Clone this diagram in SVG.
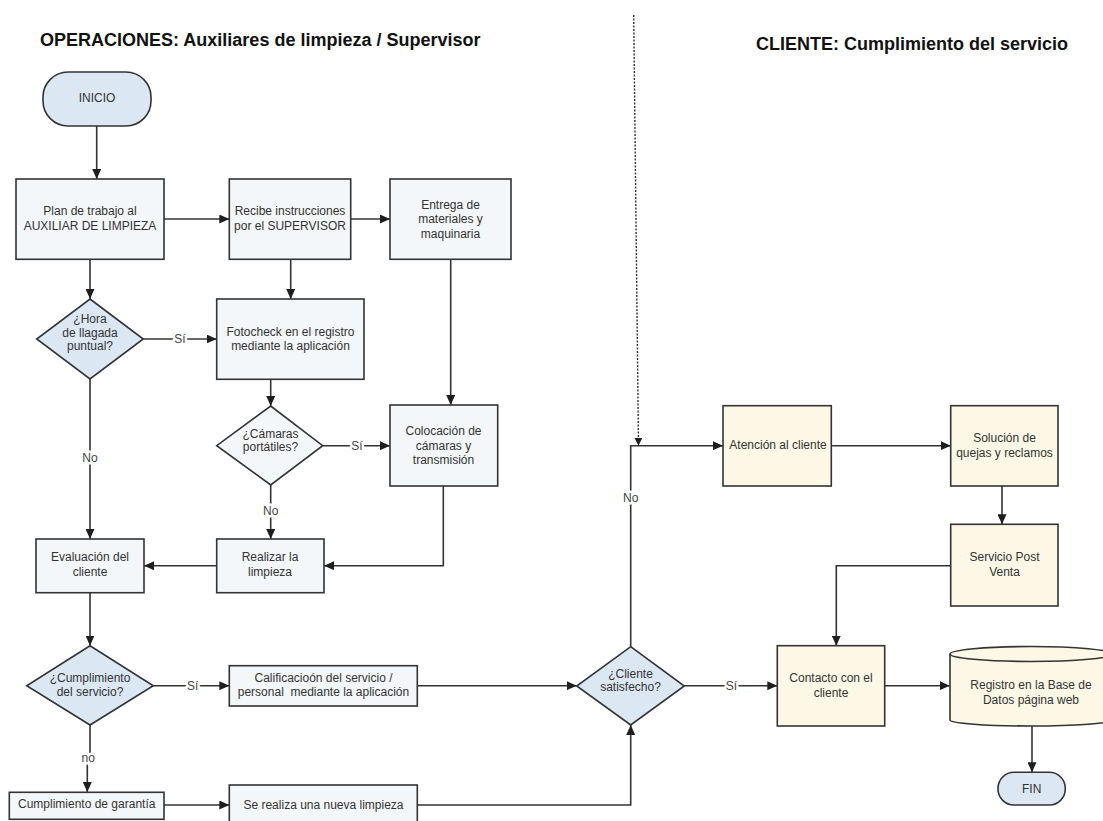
<svg xmlns="http://www.w3.org/2000/svg" width="1103" height="821" viewBox="0 0 1103 821">
<defs>
<marker id="ah" markerUnits="userSpaceOnUse" markerWidth="11" markerHeight="9" refX="10" refY="4.5" orient="auto">
<path d="M0,0 L10,4.5 L0,9 z" fill="#1e1e1e"/>
</marker>
<marker id="ahs" markerUnits="userSpaceOnUse" markerWidth="9" markerHeight="8" refX="8" refY="4" orient="auto">
<path d="M0,0 L8,4 L0,8 z" fill="#1e1e1e"/>
</marker>
<style>
.title{font-family:"Liberation Sans",Arial,sans-serif;font-weight:bold;font-size:18px;fill:#111}
.t{font-family:"Liberation Sans",Arial,sans-serif;font-size:12px;fill:#333;text-anchor:middle}
.lbl{font-family:"Liberation Sans",Arial,sans-serif;font-size:12px;fill:#444;text-anchor:middle;stroke:#fff;stroke-width:5px;paint-order:stroke;stroke-linejoin:round}
.box{fill:#f4f7f9;stroke:#333;stroke-width:1.6}
.blue{fill:#dbe8f4;stroke:#333;stroke-width:1.6}
.cream{fill:#fdf8e6;stroke:#333;stroke-width:1.6}
.c{fill:none;stroke:#333;stroke-width:1.6;marker-end:url(#ah)}
.cn{fill:none;stroke:#333;stroke-width:1.6}
.dot{fill:none;stroke:#333;stroke-width:1.4;stroke-dasharray:2 1.5;marker-end:url(#ahs)}
</style>
</defs>
<rect width="1103" height="821" fill="#fff"/>
<text class="title" x="40" y="46">OPERACIONES: Auxiliares de limpieza / Supervisor</text>
<text class="title" x="756" y="50">CLIENTE: Cumplimiento del servicio</text>

<g id="connectors">
<path class="c" d="M96.7 126 V179"/>
<path class="c" d="M164 219 H229.3"/>
<path class="c" d="M350.7 219 H390"/>
<path class="c" d="M90 259.3 V299"/>
<path class="c" d="M290.7 259.3 V299"/>
<path class="c" d="M450.7 259.3 V405"/>
<path class="c" d="M143.3 339 H216.7"/>
<path class="c" d="M270.7 379.3 V406"/>
<path class="c" d="M322.7 445.7 H390"/>
<path class="c" d="M90 379 V539"/>
<path class="c" d="M270.7 485 V539"/>
<path class="c" d="M443.3 486 V565.7 H324"/>
<path class="c" d="M216.7 565.7 H144"/>
<path class="c" d="M90 592.7 V645.7"/>
<path class="c" d="M153.3 685.7 H229.3"/>
<path class="c" d="M90 725 V757 H87.3 V792"/>
<path class="c" d="M164 805 H229.3"/>
<path class="c" d="M417.3 685.7 H576.7"/>
<path class="c" d="M417.3 805 H630.7 V725"/>
<path class="c" d="M630.7 646.7 V445.7 H723"/>
<path class="dot" d="M633.7 15 L638.5 445.7"/>
<path class="c" d="M831.3 445.7 H950.7"/>
<path class="c" d="M1002 486 V524.3"/>
<path class="c" d="M950.7 565.7 H836.3 V645.7"/>
<path class="c" d="M684.3 685.7 H777.3"/>
<path class="c" d="M884.7 685.7 H949.7"/>
<path class="c" d="M1032 726 V772.3"/>
<text class="lbl" x="180" y="343">Sí</text>
<text class="lbl" x="357" y="449.5">Sí</text>
<text class="lbl" x="90" y="461.5">No</text>
<text class="lbl" x="270.7" y="515">No</text>
<text class="lbl" x="192.7" y="690">Sí</text>
<text class="lbl" x="88.3" y="762">no</text>
<text class="lbl" x="630.7" y="502">No</text>
<text class="lbl" x="731.3" y="690">Sí</text>
</g>

<g id="inicio"><rect class="blue" x="43" y="72" width="108" height="54" rx="25"/><text class="t" x="97" y="102">INICIO</text></g>
<g id="plan"><rect class="box" x="16" y="179" width="148" height="80.3"/><text class="t" x="90" y="215">Plan de trabajo al</text><text class="t" x="90" y="230">AUXILIAR DE LIMPIEZA</text></g>
<g id="recibe"><rect class="box" x="229.3" y="179" width="121.4" height="80.3"/><text class="t" x="290" y="215">Recibe instrucciones</text><text class="t" x="290" y="230">por el SUPERVISOR</text></g>
<g id="entrega"><rect class="box" x="390" y="179" width="121" height="80.3"/><text class="t" x="450.5" y="208.5">Entrega de</text><text class="t" x="450.5" y="223">materiales y</text><text class="t" x="450.5" y="237.5">maquinaria</text></g>
<g id="hora"><polygon class="blue" points="90,299 143.3,339 90,379 36.7,339"/><text class="t" x="90" y="322.5">¿Hora</text><text class="t" x="90" y="336.5">de llagada</text><text class="t" x="90" y="350">puntual?</text></g>
<g id="fotocheck"><rect class="box" x="216.7" y="299" width="147.3" height="80.3"/><text class="t" x="290.5" y="335.5">Fotocheck en el registro</text><text class="t" x="290.5" y="350">mediante la aplicación</text></g>
<g id="camaras"><polygon class="box" points="270.7,406 322.7,445.7 270.7,485 216.7,445.7"/><text class="t" x="270.5" y="437.5">¿Cámaras</text><text class="t" x="270.5" y="451">portátiles?</text></g>
<g id="colocacion"><rect class="box" x="390" y="405" width="107.7" height="81"/><text class="t" x="443.5" y="435">Colocación de</text><text class="t" x="443.5" y="449.5">cámaras y</text><text class="t" x="443.5" y="464">transmisión</text></g>
<g id="evaluacion"><rect class="box" x="36" y="539" width="108" height="53.7"/><text class="t" x="90" y="561">Evaluación del</text><text class="t" x="90" y="576">cliente</text></g>
<g id="realizar"><rect class="box" x="216.7" y="539" width="107.3" height="53.7"/><text class="t" x="270" y="561">Realizar la</text><text class="t" x="270" y="576">limpieza</text></g>
<g id="cumplimiento"><polygon class="blue" points="90,645.7 153.3,685.7 90,725 26.7,685.7"/><text class="t" x="90" y="681.5">¿Cumplimiento</text><text class="t" x="90" y="696">del servicio?</text></g>
<g id="calificacion"><rect class="box" x="229.3" y="665.7" width="188" height="40.3"/><text class="t" x="323.5" y="681.5">Calificacioón del servicio /</text><text class="t" x="323.5" y="695.5" xml:space="preserve">personal  mediante la aplicación</text></g>
<g id="garantia"><rect class="box" x="9.3" y="792.3" width="154.7" height="27"/><text class="t" x="86.7" y="808">Cumplimiento de garantía</text></g>
<g id="nueva"><rect class="box" x="229.3" y="785" width="188" height="40"/><text class="t" x="323.5" y="809">Se realiza una nueva limpieza</text></g>
<g id="cliente"><polygon class="blue" points="630.7,646.7 684.3,686 630.7,725 576.7,686"/><text class="t" x="630.5" y="677.5">¿Cliente</text><text class="t" x="630.5" y="691">satisfecho?</text></g>
<g id="atencion"><rect class="cream" x="723" y="405.7" width="108.3" height="80.3"/><text class="t" x="778" y="449">Atención al cliente</text></g>
<g id="solucion"><rect class="cream" x="950.7" y="405.7" width="107.3" height="80.3"/><text class="t" x="1004.5" y="442">Solución de</text><text class="t" x="1004.5" y="457">quejas y reclamos</text></g>
<g id="postventa"><rect class="cream" x="950.7" y="524.3" width="107.3" height="81.7"/><text class="t" x="1004.5" y="561">Servicio Post</text><text class="t" x="1004.5" y="576">Venta</text></g>
<g id="contacto"><rect class="cream" x="777.3" y="645.7" width="107.4" height="80.3"/><text class="t" x="831" y="681.5">Contacto con el</text><text class="t" x="831" y="696.5">cliente</text></g>
<g id="registro"><path class="cream" d="M950 654 V720 A81 6 0 0 0 1112 720 V654 A81 7.5 0 0 0 950 654 Z"/><path class="cn" d="M950 654 A81 7.5 0 0 0 1112 654"/><text class="t" x="1031" y="689">Registro en la Base de</text><text class="t" x="1031" y="703.5">Datos página web</text></g>
<g id="fin"><rect class="blue" x="998" y="772.3" width="67.3" height="32.7" rx="16"/><text class="t" x="1031.7" y="792.5">FIN</text></g>
</svg>
